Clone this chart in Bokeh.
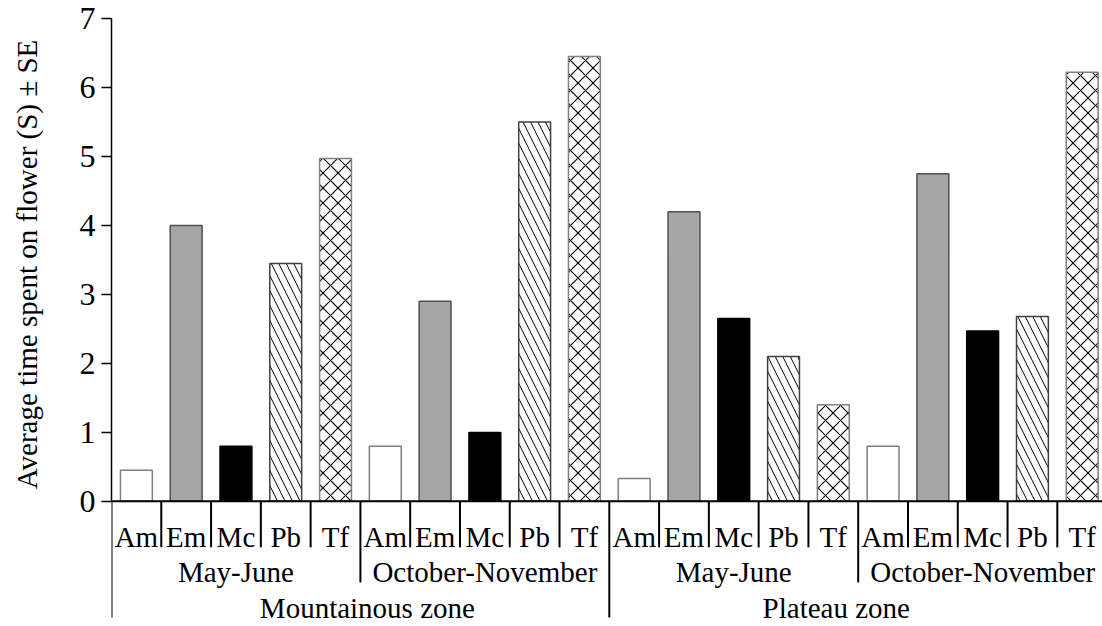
from bokeh.plotting import figure
from bokeh.models import Range1d, FixedTicker, Span, ColumnDataSource
from bokeh.core.properties import value
from bokeh.embed import file_html
from bokeh.resources import INLINE

species = ["Am", "Em", "Mc", "Pb", "Tf"]
periods = ["May-June", "October-November"]
zones = ["Mountainous zone", "Plateau zone"]
y_title = "Average time spent on flower (S) ± SE"

mount_may = [0.45, 4.0, 0.8, 3.45, 4.97]
mount_oct = [0.8, 2.9, 1.0, 5.5, 6.45]
plat_may = [0.33, 4.2, 2.65, 2.1, 1.4]
plat_oct = [0.8, 4.75, 2.47, 2.68, 6.22]

series = [mount_may, mount_oct, plat_may, plat_oct]

FONT = "Liberation Serif"
W, H = 1102, 626
LEFT, TOP = 111, 18
SLOT = 49.78
PX_UNIT = 68.98

x_end = (W - LEFT) / SLOT
y_start = 7 - (H - TOP) / PX_UNIT

p = figure(width=W, height=H, output_backend="svg", toolbar_location=None,
           x_range=Range1d(0, x_end), y_range=Range1d(y_start, 7),
           min_border_left=LEFT, min_border_right=0, min_border_top=TOP,
           min_border_bottom=0)
p.outline_line_color = None
p.xgrid.visible = False
p.ygrid.visible = False
p.xaxis.visible = False

ya = p.yaxis[0]
ya.bounds = (0, 7)
ya.ticker = FixedTicker(ticks=list(range(0, 8)))
ya.minor_tick_line_color = None
ya.major_tick_in = 0
ya.major_tick_out = 10
ya.major_tick_line_width = 1.5
ya.axis_line_width = 1.5
ya.major_label_text_font = FONT
ya.major_label_text_font_size = "32px"
ya.major_label_text_color = "black"
ya.major_label_standoff = 6
# leading no-break spaces lift the centred title onto the 0-7 span of the axis
ya.axis_label = "\u00a0" * 16 + y_title
ya.axis_label_text_font = FONT
ya.axis_label_text_font_size = "29px"
ya.axis_label_text_font_style = "normal"
ya.axis_label_text_color = "black"
ya.axis_label_standoff = 34

# bars
styles = {
    "Am": dict(fill_color="white", line_color="#808080"),
    "Em": dict(fill_color="#a6a6a6", line_color="#505050"),
    "Mc": dict(fill_color="black", line_color="black"),
    "Pb": dict(fill_color="white", line_color="#404040", hatch_pattern="\\",
               hatch_color="black", hatch_scale=15, hatch_weight=1),
    "Tf": dict(fill_color="white", line_color="#808080", hatch_pattern="x",
               hatch_color="black", hatch_scale=15, hatch_weight=1.1),
}
for si, sp in enumerate(species):
    xs, tops = [], []
    for gi, vals in enumerate(series):
        xs.append(gi * 5 + si + 0.5)
        tops.append(vals[si])
    src = ColumnDataSource(dict(x=xs, top=tops))
    p.vbar(x="x", top="top", bottom=0, width=0.64, source=src,
           line_width=1.5, **styles[sp])

# x axis line
p.add_layout(Span(location=0, dimension="width", line_color="black", line_width=2))

# separators
bx, by1 = [], []
for b in range(0, 21):
    bx.append(b)
    if b % 10 == 0:
        by1.append(-1.683)
    elif b % 5 == 0:
        by1.append(-1.175)
    else:
        by1.append(-0.667)
p.segment(x0=bx, y0=[0] * len(bx), x1=bx, y1=by1, line_color="black", line_width=2)

# category labels
cx, ct = [], []
for gi in range(4):
    for si, sp in enumerate(species):
        cx.append(gi * 5 + si + 0.5)
        ct.append(sp)
p.text(x=cx, y=[-0.52] * len(cx), text=ct, text_align="center",
       text_baseline="alphabetic", text_font=value(FONT),
       text_font_size="29px", text_color="black")

# period labels
px_, pt = [], []
for gi in range(4):
    px_.append(gi * 5 + 2.5)
    pt.append(periods[gi % 2])
p.text(x=px_, y=[-1.03] * len(px_), text=pt, text_align="center",
       text_baseline="alphabetic", text_font=value(FONT),
       text_font_size="29px", text_color="black")

# zone labels
p.text(x=[5.14, 14.56], y=[-1.54, -1.54], text=zones, text_align="center",
       text_baseline="alphabetic", text_font=value(FONT),
       text_font_size="29px", text_color="black")

open("out.html", "w").write(file_html(p, INLINE))
